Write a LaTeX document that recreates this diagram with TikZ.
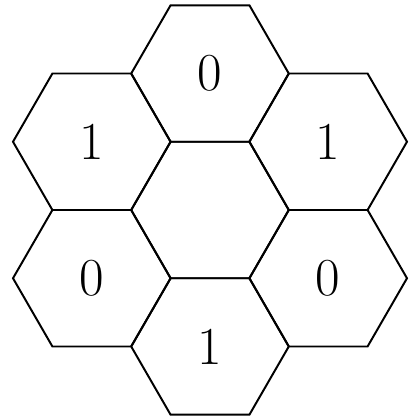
\documentclass[tikz,border=0pt]{standalone}
\usepackage{tikz}
\usetikzlibrary{shapes.geometric}

\begin{document}
\begin{tikzpicture}[line width=0.7pt]
\tikzset{hexcell/.style={
  draw,
  regular polygon,
  regular polygon sides=6,
  minimum size=1.97cm,
  inner sep=0pt,
  outer sep=0pt,
  font=\fontsize{19}{19}\selectfont
}}

\useasboundingbox (-2.625,-2.625) rectangle (2.625,2.625);

\node[hexcell] (hexC) at (0,0) {};
\node[hexcell] (hexN) at (90:{0.985*sqrt(3)}) {0};
\node[hexcell] (hexNE) at (30:{0.985*sqrt(3)}) {1};
\node[hexcell] (hexSE) at (-30:{0.985*sqrt(3)}) {0};
\node[hexcell] (hexS) at (-90:{0.985*sqrt(3)}) {1};
\node[hexcell] (hexSW) at (210:{0.985*sqrt(3)}) {0};
\node[hexcell] (hexNW) at (150:{0.985*sqrt(3)}) {1};
\end{tikzpicture}
\end{document}
